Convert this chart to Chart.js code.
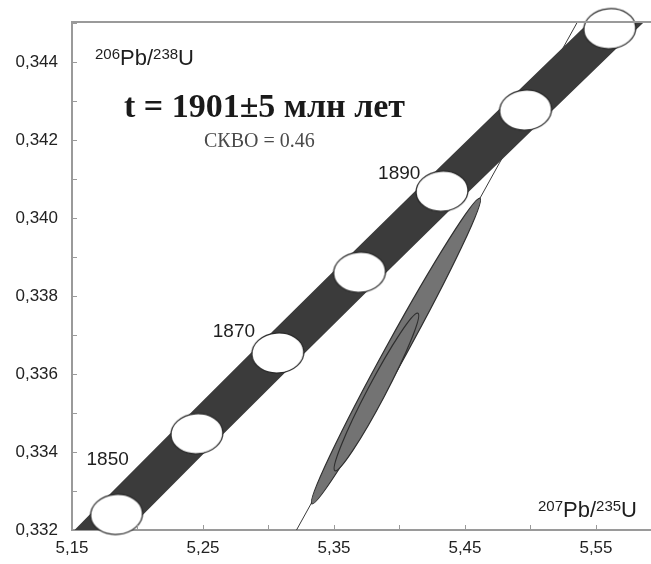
<!DOCTYPE html>
<html>
<head>
<meta charset="utf-8">
<script src="https://cdn.jsdelivr.net/npm/chart.js@4/dist/chart.umd.min.js"></script>
<style>
  html, body { margin: 0; padding: 0; background: #fff; }
  #wrap { width: 651px; height: 564px; }
</style>
</head>
<body>
<div id="wrap"><canvas id="chart" width="651" height="564"></canvas></div>
<script>
// concordia, age marks in Ma and their 207Pb/235U, 206Pb/238U
const concAges = [1840, 1850, 1860, 1870, 1880, 1890, 1900, 1910, 1920];
const concX = [5.1234, 5.1840, 5.2453, 5.3071, 5.3695, 5.4325, 5.4962, 5.5605, 5.6254];
const concY = [0.33033, 0.33240, 0.33447, 0.33654, 0.33861, 0.34069, 0.34277, 0.34486, 0.34695];
const markAges = [1850, 1860, 1870, 1880, 1890, 1900, 1910];
const labelAges = [1850, 1870, 1890];

// discordia line
const discX = [5.30, 5.56];
const discY = [0.3307, 0.3465];

// sample error ellipses: centre and half extent of the long axis
const spotX = [5.3973, 5.3824];
const spotY = [0.33659, 0.33554];
const spotDX = [0.0642, 0.0317];
const spotDY = [0.00392, 0.00202];

// axes
const xTicks = [5.15, 5.20, 5.25, 5.30, 5.35, 5.40, 5.45, 5.50, 5.55];
const xLabels = ["5,15", "", "5,25", "", "5,35", "", "5,45", "", "5,55"];
const yTicks = [0.332, 0.333, 0.334, 0.335, 0.336, 0.337, 0.338, 0.339, 0.340, 0.341, 0.342, 0.343, 0.344, 0.345];
const yLabels = ["0,332", "", "0,334", "", "0,336", "", "0,338", "", "0,340", "", "0,342", "", "0,344", ""];

const titleText = "t = 1901\u00b15 \u043c\u043b\u043d \u043b\u0435\u0442";
const mswdText = "\u0421\u041a\u0412\u041e = 0.46";

const SANS = "'Liberation Sans', Arial, sans-serif";
const SERIF = "'Liberation Serif', 'Times New Roman', serif";
const AXIS = "#9a9a9a";

// white age ellipse used as point image
function ageMark() {
    const c = document.createElement("canvas");
    c.width = 56; c.height = 44;
    const g = c.getContext("2d");
    g.beginPath();
    g.ellipse(28, 22, 26, 20, -0.08, 0, Math.PI * 2);
    g.fillStyle = "#fff";
    g.fill();
    g.lineWidth = 1.3;
    g.strokeStyle = "#2a2a2a";
    g.stroke();
    return c;
}

function pts(xs, ys) {
    return xs.map((x, i) => ({ x, y: ys[i] }));
}

const markPts = markAges.map(a => {
    const i = concAges.indexOf(a);
    return { x: concX[i], y: concY[i] };
});

function supText(ctx, parts, x, y) {
    // parts: [text, isSup]
    let cx = x;
    for (const [t, sup] of parts) {
        ctx.font = sup ? `15px ${SANS}` : `22px ${SANS}`;
        ctx.fillText(t, cx, sup ? y - 6 : y);
        cx += ctx.measureText(t).width;
    }
}

function noPad(s) {
    s.paddingLeft = 0; s.paddingRight = 0;
    s.paddingTop = 0; s.paddingBottom = 0;
}

const extras = {
    id: "extras",
    afterDatasetsDraw(chart) {
        const { ctx, chartArea: a, scales: { x, y } } = chart;

        // sample ellipses
        ctx.save();
        ctx.beginPath();
        ctx.rect(a.left, a.top, a.right - a.left, a.bottom - a.top);
        ctx.clip();
        const minor = [10.5, 9];
        spotX.forEach((sx, i) => {
            const cx = x.getPixelForValue(sx), cy = y.getPixelForValue(spotY[i]);
            const tx = x.getPixelForValue(sx + spotDX[i]), ty = y.getPixelForValue(spotY[i] + spotDY[i]);
            const len = Math.hypot(tx - cx, ty - cy);
            const ang = Math.atan2(ty - cy, tx - cx);
            ctx.beginPath();
            ctx.ellipse(cx, cy, len, minor[i], ang, 0, Math.PI * 2);
            ctx.fillStyle = "#737373";
            ctx.fill();
            ctx.lineWidth = 1.2;
            ctx.strokeStyle = "#2e2e2e";
            ctx.stroke();
        });
        ctx.restore();

        // frame top line and inward ticks
        ctx.save();
        ctx.strokeStyle = AXIS;
        ctx.lineWidth = 2;
        ctx.beginPath();
        ctx.moveTo(a.left, a.top);
        ctx.lineTo(a.right, a.top);
        ctx.stroke();
        ctx.lineWidth = 1;
        ctx.beginPath();
        xTicks.forEach(v => {
            const px = Math.round(x.getPixelForValue(v)) + 0.5;
            ctx.moveTo(px, a.bottom);
            ctx.lineTo(px, a.bottom - 5);
        });
        yTicks.forEach(v => {
            const py = Math.round(y.getPixelForValue(v)) + 0.5;
            ctx.moveTo(a.left, py);
            ctx.lineTo(a.left + 5, py);
        });
        ctx.stroke();
        ctx.restore();

        // texts
        ctx.save();
        ctx.fillStyle = "#1e1e1e";
        ctx.textBaseline = "alphabetic";
        ctx.textAlign = "left";
        supText(ctx, [["206", true], ["Pb/", false], ["238", true], ["U", false]], a.left + 23, a.top + 43);
        supText(ctx, [["207", true], ["Pb/", false], ["235", true], ["U", false]], a.right - 113, a.bottom - 13);

        ctx.font = `bold 34px ${SERIF}`;
        ctx.fillStyle = "#1a1a1a";
        ctx.fillText(titleText, a.left + 52, a.top + 95);
        ctx.font = `20px ${SERIF}`;
        ctx.fillStyle = "#4a4a4a";
        ctx.fillText(mswdText, a.left + 132, a.top + 125);

        // age labels next to their marks
        const labDX = [-30, -65, -64];
        const labDY = [-49, -16, -12];
        ctx.font = `19px ${SANS}`;
        ctx.fillStyle = "#1e1e1e";
        labelAges.forEach((age, i) => {
            const k = concAges.indexOf(age);
            const px = x.getPixelForValue(concX[k]), py = y.getPixelForValue(concY[k]);
            ctx.fillText(String(age), px + labDX[i], py + labDY[i]);
        });
        ctx.restore();
    }
};

new Chart(document.getElementById("chart"), {
    type: "scatter",
    data: {
        datasets: [
            {
                type: "line",
                data: pts(discX, discY),
                borderColor: "#3a3a3a",
                borderWidth: 1,
                pointRadius: 0,
                clip: 0,
                order: 4,
            },
            {
                type: "line",
                data: pts(concX, concY),
                borderColor: "#3b3b3b",
                borderWidth: 38,
                borderCapStyle: "butt",
                borderJoinStyle: "round",
                pointRadius: 0,
                tension: 0,
                clip: 0,
                order: 3,
            },
            {
                data: markPts,
                pointStyle: ageMark(),
                pointRadius: 26,
                clip: false,
                order: 1,
            },
        ],
    },
    options: {
        responsive: false,
        animation: false,
        events: [],
        layout: { autoPadding: false, padding: { top: 22, right: 0, left: 0, bottom: 0 } },
        plugins: { legend: { display: false }, tooltip: { enabled: false } },
        scales: {
            x: {
                type: "linear",
                min: 5.15,
                max: 5.592,
                afterBuildTicks: s => { s.ticks = xTicks.map(v => ({ value: v })); },
                afterFit: s => { s.height = 34; noPad(s); },
                grid: { display: false, drawTicks: false },
                border: { display: true, color: AXIS, width: 2 },
                ticks: {
                    autoSkip: false,
                    maxRotation: 0,
                    padding: 8,
                    color: "#222",
                    font: { family: SANS, size: 17 },
                    callback: (v, i) => xLabels[i],
                },
            },
            y: {
                type: "linear",
                min: 0.332,
                max: 0.34503,
                afterBuildTicks: s => { s.ticks = yTicks.map(v => ({ value: v })); },
                afterFit: s => { s.width = 72; noPad(s); },
                grid: { display: false, drawTicks: false },
                border: { display: true, color: AXIS, width: 2 },
                ticks: {
                    autoSkip: false,
                    padding: 14,
                    color: "#222",
                    font: { family: SANS, size: 17 },
                    callback: (v, i) => yLabels[i],
                },
            },
        },
    },
    plugins: [extras],
});
</script>
</body>
</html>
